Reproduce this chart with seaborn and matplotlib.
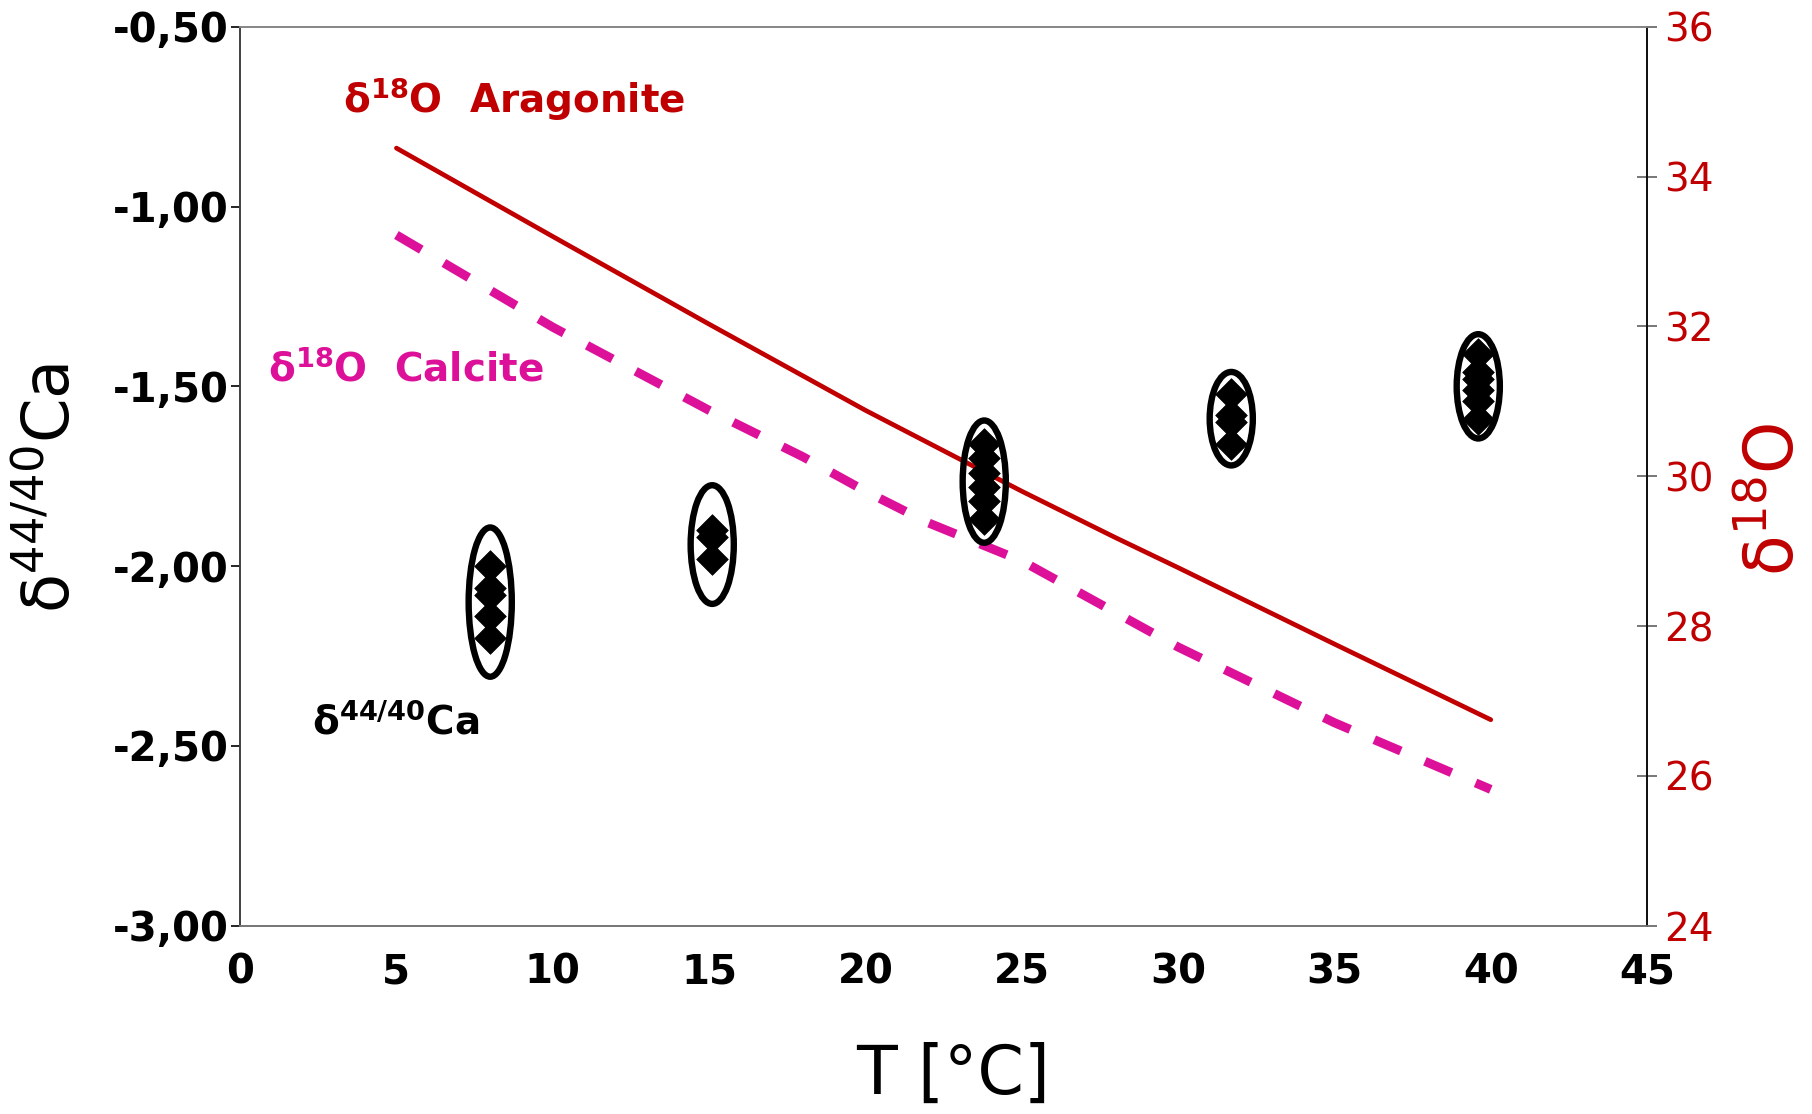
import matplotlib
matplotlib.use("Agg")
import matplotlib.pyplot as plt
from matplotlib.patches import Ellipse
import seaborn as sns
import pandas as pd

# temperature axis for the d18O equilibrium curves
t_arag = [5, 10, 15, 20, 25, 28, 30, 35, 40]
d18o_arag = [34.38, 33.20, 32.03, 30.88, 29.80, 29.18, 28.78, 27.76, 26.75]
t_calc = [5, 10, 15, 18, 20, 22, 25, 30, 35, 40]
d18o_calc = [33.22, 31.99, 30.88, 30.26, 29.80, 29.38, 28.87, 27.72, 26.71, 25.82]

# d44/40Ca measurements, grouped by culture temperature
ca_groups = [8.0, 15.1, 23.8, 31.7, 39.6]
ca_values = [
    [-2.00, -2.06, -2.08, -2.14, -2.20],
    [-1.90, -1.92, -1.98],
    [-1.66, -1.70, -1.74, -1.78, -1.82, -1.87],
    [-1.52, -1.58, -1.60, -1.66],
    [-1.41, -1.46, -1.48, -1.51, -1.54, -1.59],
]
ellipse_h = [0.415, 0.33, 0.34, 0.26, 0.29]

x_ticks = list(range(0, 50, 5))
y_ticks = [-3.0, -2.5, -2.0, -1.5, -1.0, -0.5]
y2_ticks = [24, 26, 28, 30, 32, 34, 36]

RED = "#C00000"
PINK = "#DD1199"

sns.set_style("white")
plt.rcParams["font.family"] = ["DejaVu Sans"]
plt.rcParams["mathtext.default"] = "regular"
plt.rcParams["text.color"] = "black"
plt.rcParams["axes.labelcolor"] = "black"
plt.rcParams["xtick.color"] = "black"
plt.rcParams["ytick.color"] = "black"

arag = pd.DataFrame({"T": t_arag, "d18O": d18o_arag})
calc = pd.DataFrame({"T": t_calc, "d18O": d18o_calc})
ca = pd.DataFrame(
    [(t, v) for t, vals in zip(ca_groups, ca_values) for v in vals],
    columns=["T", "d44Ca"],
)

fig = plt.figure(figsize=(18.12, 11.14), dpi=100)
ax = fig.add_axes([0.1325, 0.169, 0.7765, 0.807])
ax2 = ax.twinx()

sns.lineplot(data=arag, x="T", y="d18O", ax=ax2, color=RED, lw=3.4)
sns.lineplot(data=calc, x="T", y="d18O", ax=ax2, color=PINK, lw=6.5,
             dashes=False, linestyle=(0, (3.2, 2.9)), solid_capstyle="butt")

sns.scatterplot(data=ca, x="T", y="d44Ca", ax=ax, marker="D", s=260,
                color="black", edgecolor="black", linewidth=0.5, zorder=4)

for t, vals, h in zip(ca_groups, ca_values, ellipse_h):
    yc = (max(vals) + min(vals)) / 2
    ax.add_patch(Ellipse((t, yc), 1.38, h, fill=False, ec="black", lw=4.6, zorder=5))

ax.set_zorder(ax2.get_zorder() + 1)
ax.patch.set_visible(False)

ax.set_xlim(0, 45)
ax.set_ylim(-3.0, -0.5)
ax2.set_ylim(24, 36)
ax.set_xticks(x_ticks)
ax.set_yticks(y_ticks)
ax.set_yticklabels([f"{v:.2f}".replace(".", ",") for v in y_ticks],
                   fontsize=29, fontweight="bold")
ax.set_xticklabels([str(v) for v in x_ticks], fontsize=29, fontweight="bold")
ax2.set_yticks(y2_ticks)
ax2.set_yticklabels([str(v) for v in y2_ticks], fontsize=28, color=RED)

ax.tick_params(axis="x", direction="in", length=9, width=1.2, pad=19, colors="black")
ax.tick_params(axis="y", direction="out", length=6.5, width=1.2, pad=1.5, left=True)
ax2.tick_params(axis="y", direction="inout", length=15, width=1.4, pad=5,
                color="#777777", labelcolor=RED, right=True)

for a in (ax, ax2):
    a.spines["top"].set_color("#888888")
    a.spines["bottom"].set_color("#777777")
    a.spines["left"].set_color("#444444")
    a.spines["right"].set_color("#111111")
    for s in a.spines.values():
        s.set_linewidth(1.3)

ax.set_xlabel("T [°C]", fontsize=48)
ax.xaxis.set_label_coords(0.507, -0.166)
ax.xaxis.label.set_va("center")
ax.set_ylabel(r"$\delta^{44/40}$Ca", fontsize=46, ha="center", va="center")
ax.yaxis.set_label_coords(-0.134, 0.487)
ax2.set_ylabel(r"$\delta^{18}$O", fontsize=48, color=RED, rotation=90,
               ha="center", va="center")
ax2.yaxis.set_label_coords(1.0906, 0.4745)

ax.text(3.3, -0.70, r"$\delta^{18}$O  Aragonite", color=RED, fontsize=28,
        fontweight="bold", va="center")
ax.text(0.9, -1.454, r"$\delta^{18}$O  Calcite", color=PINK, fontsize=28,
        fontweight="bold", va="center")
ax.text(2.3, -2.434, r"$\delta^{44/40}$Ca", color="black", fontsize=28,
        fontweight="bold", va="center")

fig.savefig("out.png", dpi=100)
